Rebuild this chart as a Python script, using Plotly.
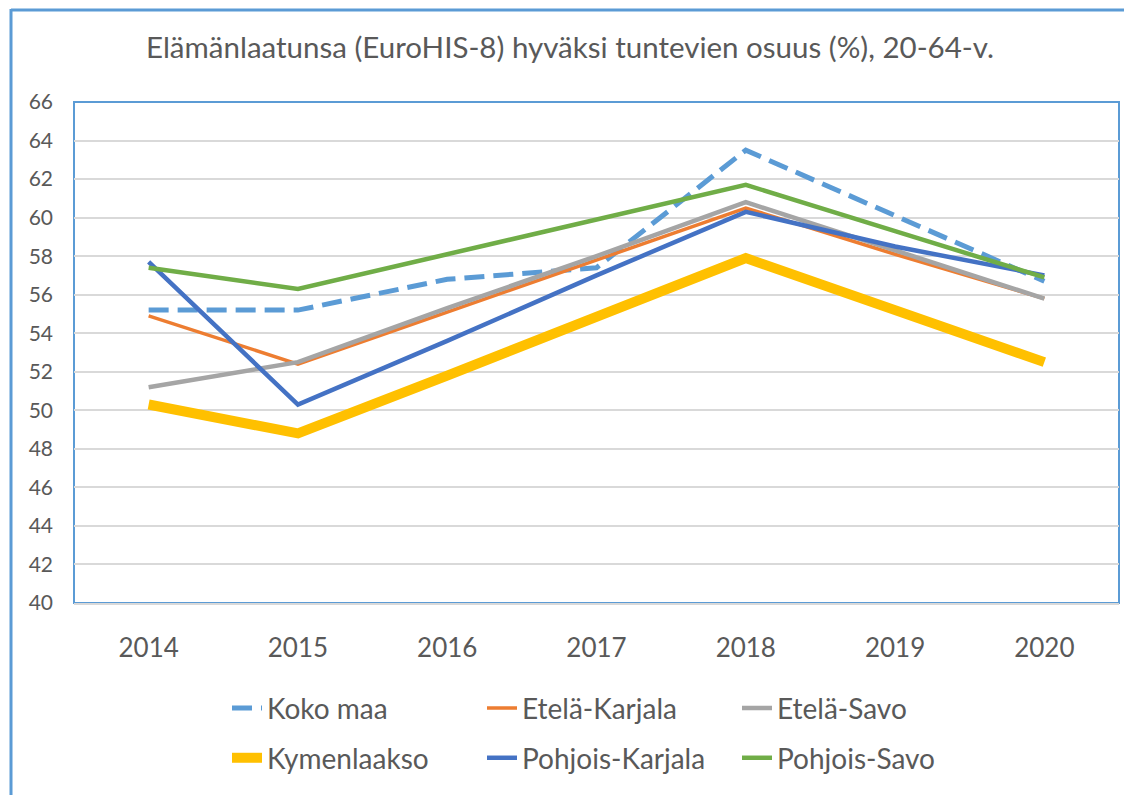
import plotly.graph_objects as go

years = ["2014", "2015", "2016", "2017", "2018", "2019", "2020"]
koko_maa = [55.2, 55.2, 56.8, 57.4, 63.5, 60.1, 56.7]
etela_karjala = [54.9, 52.4, 55.1, 57.8, 60.5, 58.1, 55.8]
etela_savo = [51.2, 52.5, 55.3, 58.0, 60.8, 58.3, 55.8]
kymenlaakso = [50.3, 48.8, 51.8, 54.8, 57.9, 55.2, 52.5]
pohjois_karjala = [57.7, 50.3, 53.6, 57.0, 60.3, 58.5, 57.0]
pohjois_savo = [57.4, 56.3, 58.1, 59.9, 61.7, 59.3, 56.9]

title = "Elämänlaatunsa (EuroHIS-8) hyväksi tuntevien osuus (%), 20-64-v."
FONT = "Lato"
TXT = "#595959"

fig = go.Figure()
series = [
    ("Koko maa", koko_maa, "#5B9BD5", 5, "20px,9px", "legend"),
    ("Etelä-Karjala", etela_karjala, "#ED7D31", 3.5, "solid", "legend"),
    ("Etelä-Savo", etela_savo, "#A5A5A5", 4.5, "solid", "legend"),
    ("Kymenlaakso", kymenlaakso, "#FFC000", 10, "solid", "legend2"),
    ("Pohjois-Karjala", pohjois_karjala, "#4472C4", 4.5, "solid", "legend2"),
    ("Pohjois-Savo", pohjois_savo, "#70AD47", 4.5, "solid", "legend2"),
]
for name, vals, col, w, dash, leg in series:
    fig.add_trace(go.Scatter(
        x=years, y=vals, name=name, mode="lines",
        line=dict(color=col, width=w, dash=dash),
        legend=leg,
    ))

# page has 8px body margin; work in screen pixels and convert
OFF = 8
W, H = 1124, 787
L, T = 74 - OFF, 102 - OFF
R = W - (1119 - OFF)
B = H - (606 - OFF)
pw = W - L - R
ph = H - T - B

def px_x(p):
    return (p - OFF - L) / pw

def px_y(p):
    return (H - B - (p - OFF)) / ph

legend_common = dict(
    orientation="h", entrywidth=210, entrywidthmode="pixels",
    font=dict(family=FONT, size=28, color=TXT),
    bgcolor="rgba(0,0,0,0)", xanchor="left", yanchor="middle",
    itemwidth=30, tracegroupgap=0,
)

fig.update_layout(
    width=W, height=H,
    margin=dict(l=L, r=R, t=T, b=B),
    paper_bgcolor="white", plot_bgcolor="white",
    title=dict(text=title, x=0.5, xanchor="center", y=1 - (48 - OFF) / H, yanchor="middle",
               font=dict(family=FONT, size=29.5, color=TXT)),
    font=dict(family=FONT, color=TXT),
    showlegend=True,
    legend=dict(x=px_x(227), y=px_y(712), **legend_common),
    legend2=dict(x=px_x(227), y=px_y(762), **legend_common),
    xaxis=dict(type="category", range=[-0.5, 6.5], showgrid=False,
               showline=True, linecolor="#D9D9D9", linewidth=2,
               ticks="", tickfont=dict(family=FONT, size=26, color=TXT),
               ticklabelstandoff=21, zeroline=False),
    yaxis=dict(range=[40, 66], dtick=2, showgrid=True, gridcolor="#D9D9D9",
               gridwidth=2, zeroline=False, showline=False, ticks="",
               tickfont=dict(family=FONT, size=21, color=TXT),
               ticklabelstandoff=20),
    shapes=[
        dict(type="rect", xref="paper", yref="paper", x0=0, x1=1, y0=0, y1=1,
             line=dict(color="#5B9BD5", width=2), layer="below"),
        dict(type="line", xref="paper", yref="paper",
             x0=px_x(11), x1=px_x(11), y0=px_y(8.5), y1=px_y(810),
             line=dict(color="#5B9BD5", width=3)),
        dict(type="line", xref="paper", yref="paper",
             x0=px_x(11), x1=px_x(1140), y0=px_y(9.5), y1=px_y(9.5),
             line=dict(color="#5B9BD5", width=3)),
    ],
)

fig.write_html("out.html")
